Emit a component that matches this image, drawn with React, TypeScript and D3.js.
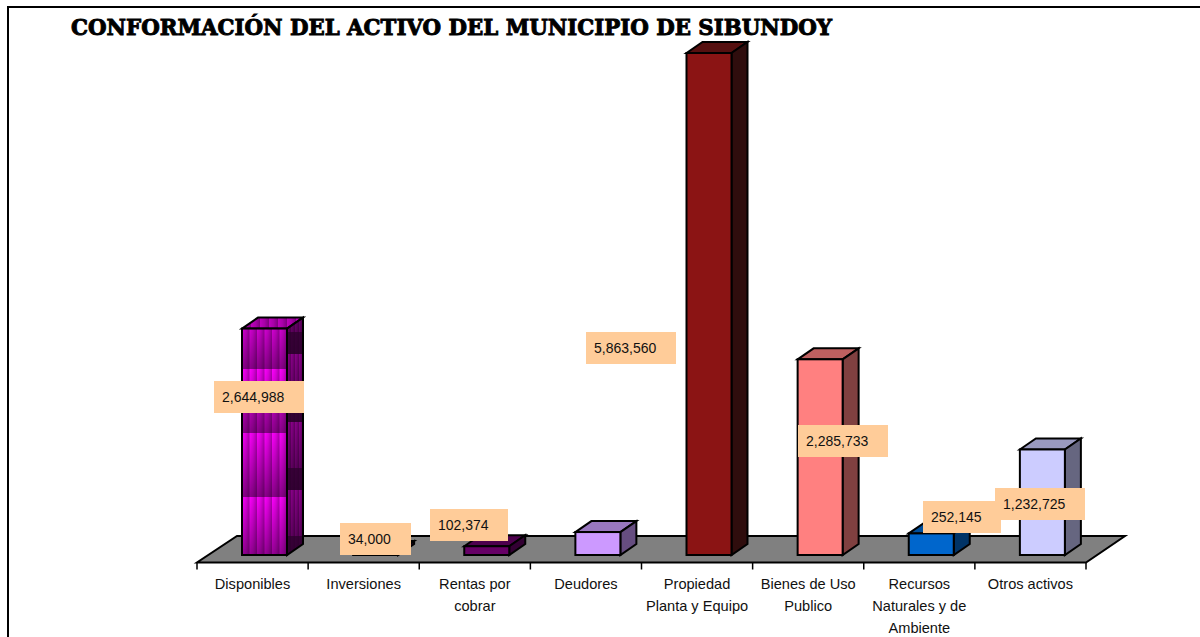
import React from "react";
import * as d3 from "d3";

const title = "CONFORMACIÓN DEL ACTIVO DEL MUNICIPIO DE SIBUNDOY";
const categories = ["Disponibles", "Inversiones", "Rentas por cobrar", "Deudores", "Propiedad Planta y Equipo", "Bienes de Uso Publico", "Recursos Naturales y de Ambiente", "Otros activos"];
const categoryLines = [["Disponibles"], ["Inversiones"], ["Rentas por", "cobrar"], ["Deudores"], ["Propiedad", "Planta y Equipo"], ["Bienes de Uso", "Publico"], ["Recursos", "Naturales y de", "Ambiente"], ["Otros activos"]];
const values = [2644988, 34000, 102374, 268000, 5863560, 2285733, 252145, 1232725];
const labelTexts = ["2,644,988", "34,000", "102,374", "", "5,863,560", "2,285,733", "252,145", "1,232,725"];
const labelBoxes: ([number, number, number] | null)[] = [[214, 381, 90], [340, 523, 71], [430, 509, 78], null, [586, 332, 90], [798, 425, 90], [923, 501, 78], [995, 488, 90]];
const faceColors = ["url(#magFront)", "#660066", "#660066", "#cc99ff", "#8b1414", "#ff8080", "#0066cc", "#ccccff"];
const topColors = ["url(#magTop)", "#4d004d", "#4d004d", "#9977bf", "#561010", "#bf6060", "#004d99", "#9999bf"];
const sideColors = ["url(#magSide)", "#330033", "#330033", "#664d80", "#2f0d0d", "#804040", "#003366", "#666680"];

const W = 1200, H = 637;
const x = d3.scaleBand<string>().domain(categories).range([197, 1086]);
const y = d3.scaleLinear().domain([0, 5863560]).range([555, 53]);
const barW = 45, dx = 16, dy = 11, barInset = 45;
const floorFrontY = 562.5, floorBackY = 536;
const line = d3.line();

export default function App() {
  const font = "'Liberation Sans', Arial, sans-serif";
  const ticks = [...categories.map((c) => x(c)!), 1086];
  return (
    <svg width={W} height={H} viewBox={`0 0 ${W} ${H}`} style={{ position: "absolute", left: 0, top: 0, background: "#fff" }}>
      <defs>
        <linearGradient id="stripe" x1="0" x2="1" y1="0" y2="0">
          <stop offset="0" stopColor="#ff00ff" />
          <stop offset="0.5" stopColor="#e000e0" />
          <stop offset="1" stopColor="#a800a8" />
        </linearGradient>
        <linearGradient id="shade" x1="0" x2="0" y1="0" y2="1">
          <stop offset="0" stopColor="#000" stopOpacity="0" />
          <stop offset="1" stopColor="#000" stopOpacity="0.45" />
        </linearGradient>
        <pattern id="magFront" patternUnits="userSpaceOnUse" x="242" y="369" width="7.5" height="64">
          <rect width="7.5" height="64" fill="url(#stripe)" />
          <rect width="7.5" height="64" fill="url(#shade)" />
        </pattern>
        <pattern id="magSide" patternUnits="userSpaceOnUse" x="287" y="354" width="4" height="68">
          <rect width="4" height="68" fill="url(#stripe)" />
          <rect width="4" height="68" fill="#000" opacity="0.45" />
          <rect width="4" height="68" fill="url(#shade)" />
          <rect y="46" width="4" height="22" fill="#2a002a" opacity="0.75" />
        </pattern>
        <pattern id="magTop" patternUnits="userSpaceOnUse" x="242" y="319" width="9" height="6">
          <rect width="9" height="6" fill="url(#stripe)" />
          <rect width="9" height="6" fill="#000" opacity="0.25" />
        </pattern>
      </defs>

      <path d={line([[8, 638], [8, 7], [1200, 7]])!} fill="none" stroke="#000" strokeWidth={2} />

      <text x={71} y={35} fontFamily="'DejaVu Serif', serif" fontWeight="bold" fontSize={23} stroke="#000" strokeWidth={1} textLength={761} lengthAdjust="spacingAndGlyphs">{title}</text>

      <path d={line([[197, floorFrontY], [1086, floorFrontY], [1125, floorBackY], [237, floorBackY]])! + "Z"} fill="#808080" stroke="#000" strokeWidth={2} strokeLinejoin="miter" />
      {ticks.map((t, i) => (
        <line key={i} x1={t} x2={t} y1={floorFrontY} y2={569.5} stroke="#000" strokeWidth={1.5} />
      ))}

      {categories.map((c, i) => {
        const bx = x(c)! + barInset;
        const top = y(values[i]);
        const base = y(0);
        return (
          <g key={c} stroke="#000" strokeWidth={2} strokeLinejoin="miter">
            <path d={line([[bx, top], [bx + dx, top - dy], [bx + barW + dx, top - dy], [bx + barW, top]])! + "Z"} fill={topColors[i]} />
            <path d={line([[bx + barW, top], [bx + barW + dx, top - dy], [bx + barW + dx, base - dy], [bx + barW, base]])! + "Z"} fill={sideColors[i]} />
            <rect x={bx} y={top} width={barW} height={base - top} fill={faceColors[i]} />
          </g>
        );
      })}

      {categoryLines.map((lines, i) => (
        <text key={i} textAnchor="middle" fontFamily={font} fontSize={14.6} fill="#111">
          {lines.map((l, j) => (
            <tspan key={j} x={x(categories[i])! + x.bandwidth() / 2} y={589 + j * 22}>{l}</tspan>
          ))}
        </text>
      ))}

      {labelBoxes.map((b, i) =>
        b ? (
          <g key={i}>
            <rect x={b[0]} y={b[1]} width={b[2]} height={32} fill="#ffcc99" />
            <text x={b[0] + 8} y={b[1] + 20.5} fontFamily={font} fontSize={14} fill="#111">{labelTexts[i]}</text>
          </g>
        ) : null
      )}
    </svg>
  );
}
